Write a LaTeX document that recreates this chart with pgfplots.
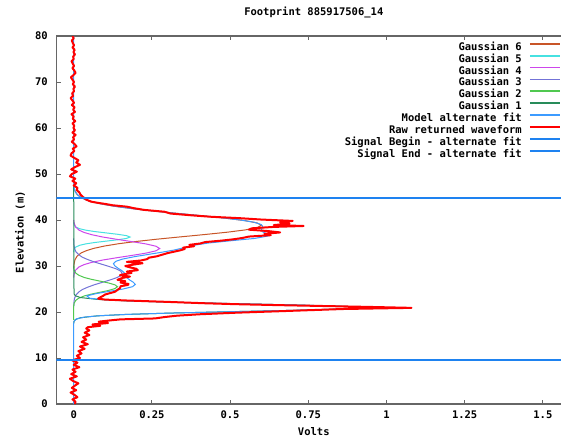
\documentclass[border=0pt]{standalone}
\usepackage{fontspec}
\setmainfont{DejaVu Sans Mono}
\usepackage{pgfplots}
\pgfplotsset{compat=1.18}
\definecolor{GaussSix}{RGB}{200,85,40}
\definecolor{GaussFive}{RGB}{70,225,225}
\definecolor{GaussFour}{RGB}{205,70,235}
\definecolor{GaussThree}{RGB}{115,115,215}
\definecolor{GaussTwo}{RGB}{80,200,80}
\definecolor{GaussOne}{RGB}{40,140,90}
\definecolor{ModelBlue}{RGB}{60,155,255}
\definecolor{SigBlue}{RGB}{30,130,240}
\begin{document}
\fontsize{10.5}{12}\selectfont\bfseries
\begin{tikzpicture}
\path[use as bounding box] (-56.5pt,-33pt) rectangle (504.5pt,404pt);
\begin{axis}[
  at={(0pt,0pt)}, anchor=south west,
  scale only axis, width=504.5pt, height=368pt,
  xmin=-0.055, xmax=1.558, ymin=0, ymax=80,
  axis x line=box, axis y line=left,
  y axis line style={-},
  axis line style={black!60, line width=1.2pt},
  tick align=inside, major tick length=4pt,
  tick style={black!60, line width=1pt},
  xtick={0,0.25,0.5,0.75,1,1.25,1.5},
  xticklabels={0,0.25,0.5,0.75,1,1.25,1.5},
  ytick={0,10,20,30,40,50,60,70,80},
  yticklabels={0,10,20,30,40,50,60,70,80},
  xticklabel style={yshift=-3pt},
  yticklabel style={xshift=-5pt},
  xlabel={Volts}, ylabel={Elevation (m)},
  xlabel style={at={(axis description cs:0.51,-0.076)}, anchor=center},
  ylabel style={at={(axis description cs:-0.0723,0.467)}, anchor=center},
  title={Footprint 885917506\_14},
  title style={at={(axis description cs:0.51,1.049)}, anchor=center},
  legend cell align=right, legend plot pos=right,
  legend style={at={(axis description cs:1,1)}, anchor=north east, yshift=-6.25pt,
    draw=none, fill=none, inner sep=0pt, outer sep=0pt, row sep=1.9pt, column sep=7pt,
    nodes={inner sep=0pt, text height=8pt, text depth=2pt}},
  legend image code/.code={\draw[#1] (0pt,3.5pt) -- (30pt,3.5pt);},
]
% legend samples, in the order of the reference
\addlegendimage{color=GaussSix, line width=1.8pt}\addlegendentry{Gaussian 6}
\addlegendimage{color=GaussFive, line width=1.8pt}\addlegendentry{Gaussian 5}
\addlegendimage{color=GaussFour, line width=1.8pt}\addlegendentry{Gaussian 4}
\addlegendimage{color=GaussThree, line width=1.8pt}\addlegendentry{Gaussian 3}
\addlegendimage{color=GaussTwo, line width=1.8pt}\addlegendentry{Gaussian 2}
\addlegendimage{color=GaussOne, line width=1.8pt}\addlegendentry{Gaussian 1}
\addlegendimage{color=ModelBlue, line width=1.8pt}\addlegendentry{Model alternate fit}
\addlegendimage{color=red, line width=2.2pt}\addlegendentry{Raw returned waveform}
\addlegendimage{color=SigBlue, line width=2pt}\addlegendentry{Signal Begin - alternate fit}
\addlegendimage{color=SigBlue, line width=2pt}\addlegendentry{Signal End - alternate fit}
% Gaussian 6
\addplot[GaussSix, line width=1pt, forget plot] coordinates {(0,47.6) (0.001,47.35) (0.004,46.35) (0.011,45.55) (0.024,44.85) (0.041,44.35) (0.065,43.85) (0.099,43.35) (0.144,42.85) (0.202,42.35) (0.269,41.85) (0.344,41.35) (0.420,40.85) (0.491,40.35) (0.549,39.85) (0.587,39.35) (0.600,38.85) (0.587,38.35) (0.549,37.85) (0.491,37.35) (0.420,36.85) (0.344,36.35) (0.269,35.85) (0.202,35.35) (0.144,34.85) (0.099,34.35) (0.065,33.85) (0.041,33.35) (0.024,32.85) (0.011,32.15) (0.004,31.35) (0.001,30.35) (0,29.5)};
% Gaussian 5
\addplot[GaussFive, line width=1pt, forget plot] coordinates {(0,39.5) (0.0017,38.9) (0.0063,38.5) (0.019,38.1) (0.038,37.8) (0.066,37.5) (0.103,37.2) (0.140,36.9) (0.169,36.6) (0.180,36.3) (0.169,36.0) (0.140,35.7) (0.103,35.4) (0.066,35.1) (0.038,34.8) (0.019,34.5) (0.0063,34.1) (0.0017,33.7) (0,33)};
% Gaussian 4
\addplot[GaussFour, line width=1pt, forget plot] coordinates {(0,40) (0.0015,39.3) (0.006,38.5) (0.017,37.8) (0.033,37.3) (0.058,36.8) (0.093,36.3) (0.138,35.8) (0.186,35.3) (0.231,34.8) (0.263,34.3) (0.275,33.8) (0.263,33.3) (0.231,32.8) (0.186,32.3) (0.138,31.8) (0.093,31.3) (0.058,30.8) (0.033,30.3) (0.017,29.8) (0.006,29.1) (0.0015,28.3) (0,27.5)};
% Gaussian 3
\addplot[GaussThree, line width=1pt, forget plot] coordinates {(0,36) (0.0004,34.9) (0.0023,33.9) (0.007,33.1) (0.017,32.4) (0.028,31.9) (0.045,31.4) (0.065,30.9) (0.089,30.4) (0.113,29.9) (0.135,29.4) (0.150,28.9) (0.155,28.4) (0.150,27.9) (0.135,27.4) (0.113,26.9) (0.089,26.4) (0.065,25.9) (0.045,25.4) (0.028,24.9) (0.017,24.4) (0.007,23.7) (0.0023,22.9) (0.0004,21.9) (0,21)};
% Gaussian 2
\addplot[GaussTwo, line width=1pt, forget plot] coordinates {(0,30) (0.0003,29.7) (0.0015,29.1) (0.006,28.5) (0.016,28.0) (0.034,27.5) (0.057,27.1) (0.085,26.7) (0.112,26.3) (0.132,25.9) (0.140,25.5) (0.132,25.1) (0.112,24.7) (0.085,24.3) (0.057,23.9) (0.034,23.5) (0.016,23.0) (0.006,22.5) (0.0015,21.9) (0,21.3) (0,18.3)};
% Gaussian 1
\addplot[GaussOne, line width=1pt, forget plot] coordinates {(0,47.6) (0.001,23.95) (0.005,23.55) (0.021,23.15) (0.073,22.75) (0.158,22.45) (0.299,22.15) (0.489,21.85) (0.695,21.55) (0.857,21.25) (0.920,20.95) (0.857,20.65) (0.695,20.35) (0.489,20.05) (0.299,19.75) (0.158,19.45) (0.073,19.15) (0.021,18.75) (0.005,18.35) (0.001,17.95) (0,17.5)};
% model
\addplot[ModelBlue, line width=1pt, forget plot] coordinates {(0,80) (0,48) (0.001,47.5) (0.002,47) (0.003,46.5) (0.006,46) (0.012,45.5) (0.021,45) (0.035,44.5) (0.057,44) (0.088,43.5) (0.130,43) (0.183,42.5) (0.248,42) (0.321,41.5) (0.398,41) (0.471,40.5) (0.533,40) (0.578,39.5) (0.600,39) (0.605,38.5) (0.600,38) (0.602,37.5) (0.617,37) (0.620,36.5) (0.579,36) (0.504,35.5) (0.431,35) (0.384,34.5) (0.354,34) (0.323,33.5) (0.282,33) (0.237,32.5) (0.192,32) (0.156,31.5) (0.134,31) (0.127,30.5) (0.132,30) (0.142,29.5) (0.154,29) (0.162,28.5) (0.165,28) (0.170,27.5) (0.178,27) (0.190,26.5) (0.197,26) (0.188,25.5) (0.158,25) (0.115,24.5) (0.072,24) (0.042,23.5) (0.051,23) (0.093,22.7) (0.182,22.4) (0.328,22.1) (0.523,21.8) (0.727,21.5) (0.876,21.2) (0.920,20.95) (0.876,20.7) (0.727,20.4) (0.523,20.1) (0.328,19.8) (0.178,19.5) (0.084,19.2) (0.035,18.9) (0.009,18.5) (0.001,18) (0,17.5) (0,0)};
% raw waveform
\addplot[red, line width=2pt, line join=round, forget plot] coordinates {
(-0.004,80.0) (0.000,79.5) (-0.006,79.0) (-0.003,78.5) (0.001,78.0) (-0.004,77.5) (0.003,77.0) (-0.001,76.5) (0.004,76.0) (-0.002,75.5)
(0.000,75.0) (-0.007,74.5) (-0.003,74.0) (0.001,73.5) (-0.004,73.0) (0.002,72.5) (0.006,72.0) (-0.001,71.5) (-0.009,71.0) (-0.004,70.5)
(0.001,70.0) (-0.003,69.5) (0.004,69.0) (-0.001,68.5) (0.001,68.0) (-0.005,67.5) (-0.002,67.0) (-0.010,66.5) (-0.004,66.0) (0.001,65.5)
(-0.006,65.0) (0.003,64.5) (-0.002,64.0) (0.004,63.5) (-0.007,63.0) (0.000,62.5) (-0.003,62.0) (0.005,61.5) (-0.004,61.0) (0.002,60.5)
(-0.001,60.0) (0.004,59.5) (-0.004,59.0) (0.006,58.5) (-0.002,58.0) (0.001,57.5) (-0.006,57.0) (0.003,56.5) (0.009,56.0) (-0.003,55.5)
(0.002,55.0) (-0.007,54.5) (-0.010,54.0) (0.002,53.5) (0.015,53.0) (0.008,52.5) (0.020,52.0) (0.004,51.5) (-0.008,51.0) (0.010,50.5)
(-0.006,50.0) (-0.012,49.5) (0.005,49.0) (-0.004,48.5) (0.008,48.0) (0.000,47.5) (0.012,47.0) (0.010,46.5) (0.018,46.0) (0.022,45.5)
(0.030,45.0) (0.038,44.5) (0.055,44.0) (0.080,43.7) (0.100,43.5) (0.125,43.2) (0.170,42.9) (0.190,42.6) (0.225,42.2) (0.290,41.8)
(0.310,41.4) (0.380,41.0) (0.440,40.7) (0.530,40.4) (0.600,40.1) (0.700,39.8) (0.660,39.5) (0.690,39.2) (0.640,38.9) (0.735,38.7)
(0.640,38.5) (0.570,38.2) (0.560,37.9) (0.620,37.6) (0.660,37.3) (0.610,37.0) (0.630,36.7) (0.560,36.4) (0.540,36.1) (0.510,35.8)
(0.470,35.5) (0.420,35.2) (0.405,34.9) (0.370,34.6) (0.385,34.3) (0.350,34.0) (0.355,33.7) (0.340,33.4) (0.320,33.1) (0.300,32.8)
(0.280,32.4) (0.265,32.1) (0.240,31.8) (0.235,31.5) (0.215,31.2) (0.170,30.9) (0.220,30.6) (0.190,30.3) (0.165,30.0) (0.180,29.7)
(0.200,29.4) (0.205,29.1) (0.170,28.8) (0.185,28.5) (0.160,28.2) (0.148,28.0) (0.180,27.7) (0.155,27.4) (0.140,27.0) (0.165,26.7)
(0.150,26.4) (0.175,26.1) (0.174,25.9) (0.150,25.6) (0.148,25.2) (0.140,24.8) (0.132,24.4) (0.116,24.1) (0.100,23.8) (0.094,23.5)
(0.085,23.2) (0.078,22.9) (0.100,22.7) (0.170,22.5) (0.300,22.2) (0.420,21.9) (0.520,21.7) (0.650,21.5) (0.800,21.3) (0.950,21.1)
(1.080,20.9) (0.990,20.8) (0.860,20.65) (0.755,20.4) (0.650,20.15) (0.520,19.85) (0.400,19.5) (0.330,19.2) (0.290,18.9) (0.260,18.6)
(0.150,18.4) (0.120,18.2) (0.080,17.9) (0.110,17.6) (0.060,17.3) (0.085,17.0) (0.045,16.7) (0.040,16.4) (0.050,16.0) (0.035,15.5)
(0.050,15.0) (0.030,14.5) (0.040,14.0) (0.025,13.5) (0.045,13.0) (0.020,12.5) (0.035,12.0) (0.015,11.5) (0.025,11.0) (0.010,10.5)
(0.020,10.0) (-0.005,9.5) (0.012,9.0) (0.000,8.5) (0.018,8.0) (-0.004,7.5) (0.006,7.0) (-0.008,6.5) (0.010,6.0) (-0.012,5.5)
(-0.002,5.0) (0.015,4.5) (0.004,4.0) (-0.006,3.5) (0.008,3.0) (-0.010,2.5) (0.002,2.0) (0.012,1.5) (-0.004,1.0) (0.006,0.5) (0.003,0.0)};
% signal begin and end
\addplot[SigBlue, line width=1.8pt, forget plot] coordinates {(-0.1,44.7) (1.7,44.7)};
\addplot[SigBlue, line width=1.8pt, forget plot] coordinates {(-0.1,9.6) (1.7,9.6)};
\end{axis}
\end{tikzpicture}
\end{document}
